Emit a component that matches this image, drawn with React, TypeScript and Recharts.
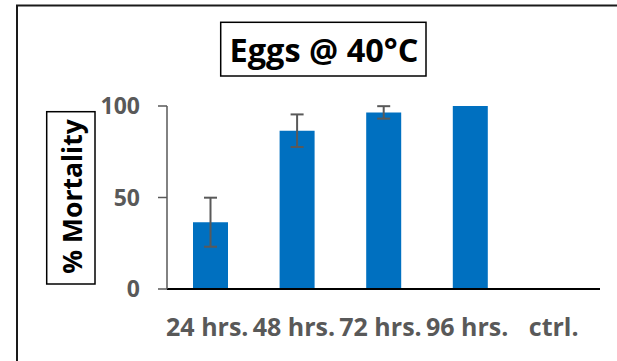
import { BarChart, Bar, XAxis, YAxis, ErrorBar } from 'recharts';

const categories = ['24 hrs.', '48 hrs.', '72 hrs.', '96 hrs.', 'ctrl.'];
const mortality = [36.5, 86.5, 96.5, 100, 0];
const errors = [13.4, 8.9, 3.4, 0, 0];
const yTicks = [0, 50, 100];

const data = categories.map((c, i) => ({ name: c, value: mortality[i], err: errors[i] }));

const FONT = '"Open Sans", sans-serif';

export default function App() {
  return (
    <div style={{ position: 'absolute', left: 0, top: 0, width: 617, height: 361, background: '#fff' }}>
      <BarChart
        width={617}
        height={361}
        data={data}
        margin={{ top: 106, right: 17, left: 0, bottom: 0 }}
      >
        <XAxis
          dataKey="name"
          height={72}
          tickLine={false}
          tickSize={0}
          tickMargin={29}
          axisLine={{ stroke: '#000', strokeWidth: 2 }}
          tick={{ fill: '#595959', fontSize: 25, fontWeight: 700, fontFamily: FONT, dx: -3 }}
          interval={0}
        />
        <YAxis
          width={167}
          domain={[0, 100]}
          ticks={yTicks}
          interval={0}
          tickSize={9}
          tickMargin={18}
          axisLine={{ stroke: '#595959', strokeWidth: 1.5 }}
          tickLine={{ stroke: '#595959', strokeWidth: 1.5 }}
          tick={{ fill: '#595959', fontSize: 23, fontWeight: 700, fontFamily: FONT }}
        />
        <Bar dataKey="value" fill="#0070C0" barSize={35} isAnimationActive={false}>
          <ErrorBar dataKey="err" direction="y" width={6.5} stroke="#595959" strokeWidth={2} />
        </Bar>
      </BarChart>
      <svg
        width={617}
        height={361}
        style={{ position: 'absolute', left: 0, top: 0, pointerEvents: 'none' }}
      >
        {/* chart border: only top and left visible */}
        <path d="M17,361 L17,5.5 L617,5.5" fill="none" stroke="#1a1a1a" strokeWidth={2} />
        {/* title box */}
        <rect x={220.7} y={22.3} width={205.3} height={53.7} fill="#fff" stroke="#000" strokeWidth={1.5} />
        <text x={324} y={62} textAnchor="middle" fontFamily={FONT} fontWeight={700} fontSize={32.5} fill="#000">
          Eggs @ 40°C
        </text>
        {/* y-axis title box */}
        <rect x={46.7} y={111.7} width={48.3} height={172.3} fill="#fff" stroke="#000" strokeWidth={1.5} />
        <text
          transform="translate(82,196.5) rotate(-90)"
          textAnchor="middle"
          fontFamily={FONT}
          fontWeight={700}
          fontSize={26.5}
          fill="#000"
        >
          % Mortality
        </text>
      </svg>
    </div>
  );
}
